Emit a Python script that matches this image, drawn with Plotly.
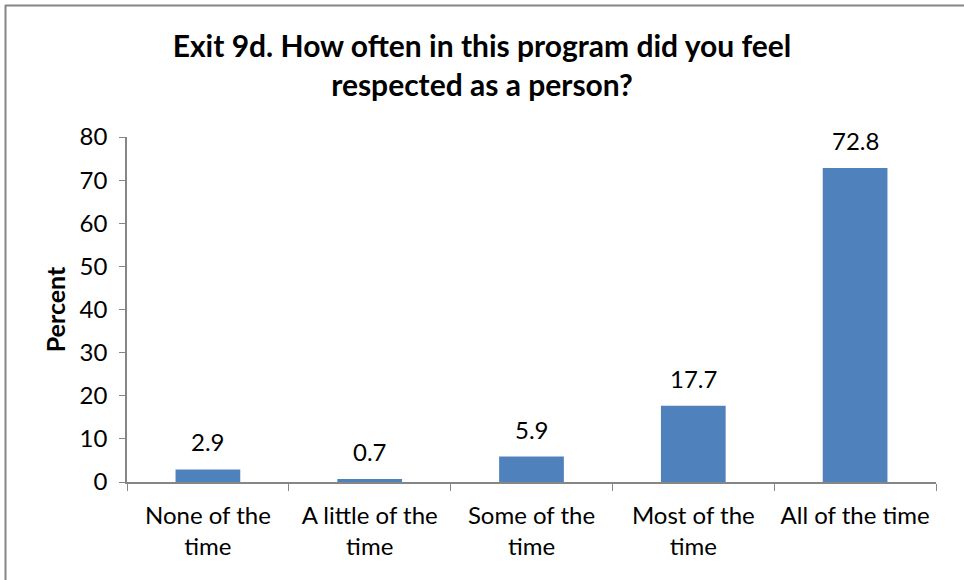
import plotly.graph_objects as go

categories = ["None of the<br>time", "A little of the<br>time", "Some of the<br>time",
              "Most of the<br>time", "All of the time"]
percent = [2.9, 0.7, 5.9, 17.7, 72.8]
y_ticks = [0, 10, 20, 30, 40, 50, 60, 70, 80]

W, H = 964, 580
L, R, T, B = 127, 28, 137, 98
pw = W - L - R
ph = H - T - B

FONT = "Lato, Calibri, 'Open Sans', sans-serif"

fig = go.Figure(go.Bar(
    x=categories, y=percent,
    marker=dict(color="#4F81BD", line=dict(width=0)),
    hoverinfo="x+y",
))

# value labels above each bar
for cat, v in zip(categories, percent):
    fig.add_annotation(
        x=cat, y=v, xref="x", yref="y",
        text=f"{v:.1f}", showarrow=False,
        yanchor="bottom", yshift=11,
        font=dict(size=24, family=FONT, color="#000000"),
    )

def px_x(p):
    return (p - L) / pw

def px_y(p):
    return (H - B - p) / ph

fig.update_layout(
    width=W, height=H,
    margin=dict(l=L, r=R, t=T, b=B),
    paper_bgcolor="white", plot_bgcolor="white",
    bargap=0.6,
    showlegend=False,
    font=dict(family=FONT, color="#000000"),
    title=dict(
        text="<b>Exit 9d. How often in this program did you feel<br>respected as a person?</b>",
        x=0.5, xref="container", xanchor="center",
        y=1 - 57 / H, yref="container", yanchor="top",
        font=dict(size=30, family=FONT, color="#000000"),
    ),
    xaxis=dict(
        type="category",
        showline=True, linecolor="#868686", linewidth=1.5,
        ticks="outside", tickson="boundaries", ticklen=7, tickcolor="#868686",
        tickfont=dict(size=24, family=FONT),
        ticklabelstandoff=11,
        showgrid=False, zeroline=False,
    ),
    yaxis=dict(
        range=[0, 80], tickvals=y_ticks,
        showline=True, linecolor="#868686", linewidth=1.5,
        ticks="outside", ticklen=6, tickcolor="#868686",
        tickfont=dict(size=24, family=FONT),
        ticklabelstandoff=7,
        showgrid=False, zeroline=False,
        title=dict(text="<b>Percent</b>", font=dict(size=25, family=FONT), standoff=7),
    ),
    shapes=[
        dict(type="line", xref="paper", yref="paper",
             x0=px_x(5.5), x1=px_x(5.5), y0=px_y(5), y1=px_y(H + 5),
             line=dict(color="#868686", width=2)),
        dict(type="line", xref="paper", yref="paper",
             x0=px_x(5), x1=px_x(W + 5), y0=px_y(5.5), y1=px_y(5.5),
             line=dict(color="#868686", width=2)),
    ],
)

fig.write_html("out.html")
